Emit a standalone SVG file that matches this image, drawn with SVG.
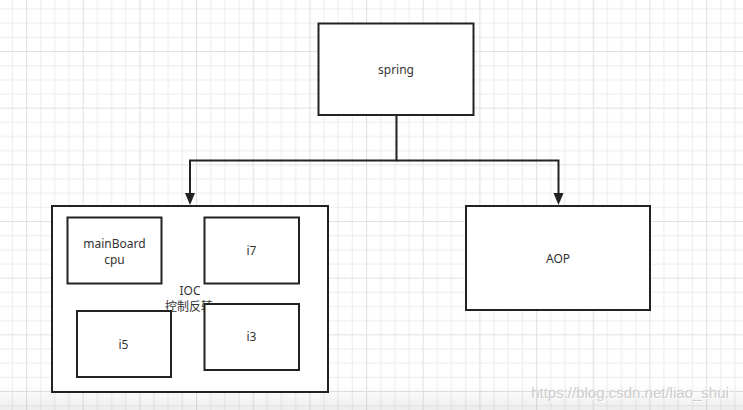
<svg xmlns="http://www.w3.org/2000/svg" width="743" height="410" viewBox="0 0 743 410">
  <defs>
    <pattern id="grid" patternUnits="userSpaceOnUse" x="26" y="51" width="56.67" height="56.67">
      <path d="M0.5 0V56.67M14.67 0V56.67M28.83 0V56.67M43 0V56.67M0 0.5H56.67M0 14.67H56.67M0 28.83H56.67M0 43H56.67" stroke="#ececec" stroke-width="1" fill="none"/>
      <path d="M0.5 0V56.67M0 0.5H56.67" stroke="#e2e2e2" stroke-width="1.2" fill="none"/>
    </pattern>
    <linearGradient id="fade" x1="0" y1="0" x2="0" y2="1">
      <stop offset="0" stop-color="#000" stop-opacity="0"/>
      <stop offset="1" stop-color="#000" stop-opacity="0.07"/>
    </linearGradient>
  </defs>
  <style>
    .box { fill: #fff; stroke: #222; stroke-width: 2; }
    .lbl { font-family: "Noto Sans", "Noto Sans CJK SC", sans-serif; font-size: 12px; fill: #333; text-anchor: middle; }
    .edge { fill: none; stroke: #222; stroke-width: 2; }
    .head { fill: #222; }
    .wm { font-family: "Liberation Sans", Arial, sans-serif; font-size: 15px; text-anchor: middle; }
  </style>
  <rect width="743" height="410" fill="#fff"/>
  <rect width="743" height="410" fill="url(#grid)"/>

  <g id="connectors">
    <path class="edge" d="M396.5 115V160.5H190V194"/>
    <path class="edge" d="M396.5 160.5H558.5V194"/>
    <path class="head" d="M185 193L195 193L190 205Z"/>
    <path class="head" d="M553.5 193L563.5 193L558.5 205Z"/>
  </g>

  <g id="spring">
    <rect class="box" x="318.5" y="23.5" width="155" height="91.5"/>
    <text class="lbl" x="396" y="74">spring</text>
  </g>

  <g id="ioc">
    <rect class="box" x="52" y="206" width="276" height="186"/>
    <text class="lbl" x="190" y="295">IOC</text>
    <text class="lbl" x="189" y="311">控制反转</text>
  </g>

  <g id="mainboard">
    <rect class="box" x="67.5" y="217.5" width="94" height="66"/>
    <text class="lbl" x="114.5" y="247.5">mainBoard</text>
    <text class="lbl" x="114.5" y="263.5">cpu</text>
  </g>

  <g id="i7">
    <rect class="box" x="204.5" y="217.5" width="94.5" height="66"/>
    <text class="lbl" x="251.5" y="254.5">i7</text>
  </g>

  <g id="i5">
    <rect class="box" x="77" y="311" width="94" height="66"/>
    <text class="lbl" x="123.5" y="348.5">i5</text>
  </g>

  <g id="i3">
    <rect class="box" x="204.5" y="304" width="94.5" height="66"/>
    <text class="lbl" x="251.5" y="341">i3</text>
  </g>

  <g id="aop">
    <rect class="box" x="466" y="206" width="184" height="104"/>
    <text class="lbl" x="558" y="262.5">AOP</text>
  </g>

  <rect x="0" y="384" width="743" height="26" fill="url(#fade)"/>
  <text class="wm" x="631" y="399" fill="#ffffff">https://blog.csdn.net/liao_shui</text>
  <text class="wm" x="630" y="398" fill="#cccccc">https://blog.csdn.net/liao_shui</text>
</svg>
